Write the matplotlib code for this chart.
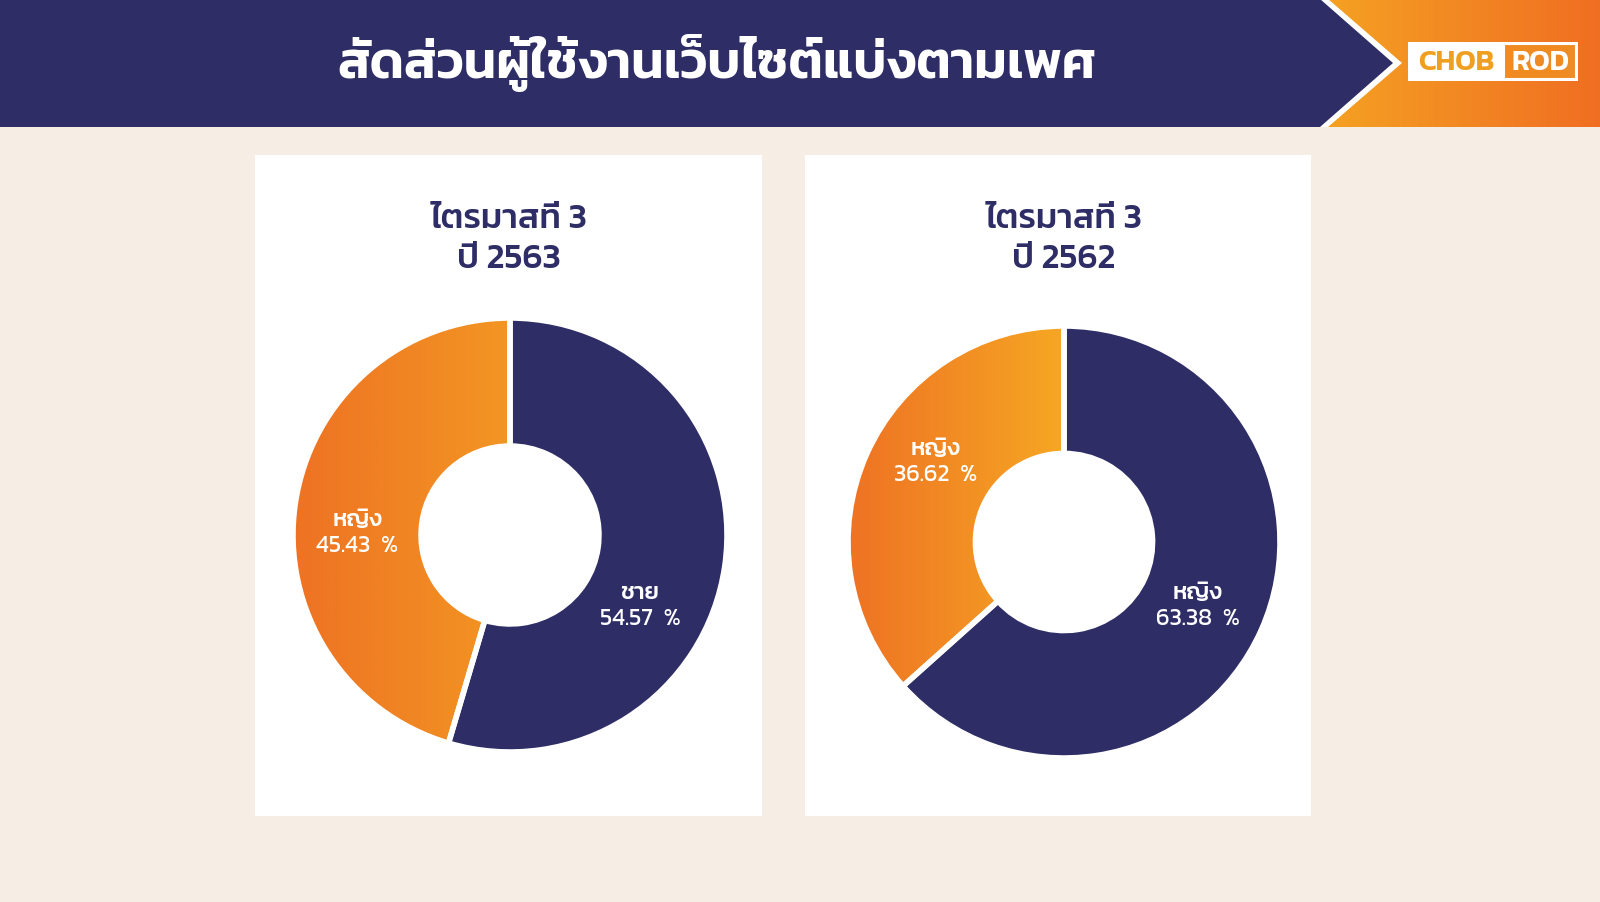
import numpy as np
import matplotlib
matplotlib.use("Agg")
import matplotlib.pyplot as plt
from matplotlib import font_manager, ft2font
from matplotlib.patches import Rectangle, Polygon
from matplotlib.colors import LinearSegmentedColormap

# data
title = "สัดส่วนผู้ใช้งานเว็บไซต์แบ่งตามเพศ"
chart_titles = ["ไตรมาสที่ 3\nปี 2563", "ไตรมาสที่ 3\nปี 2562"]
labels_2563 = ["ชาย", "หญิง"]
values_2563 = [54.57, 45.43]
labels_2562 = ["หญิง", "หญิง"]
values_2562 = [63.38, 36.62]

navy = "#2E2D66"
cream = "#F6EEE4"


def thai_font():
    # look for installed fonts with Thai glyphs, prefer the rounder modern ones
    found = []
    for f in font_manager.fontManager.ttflist:
        try:
            cmap = ft2font.FT2Font(f.fname).get_charmap()
        except Exception:
            continue
        if 0x0E2A in cmap and 0x0E34 in cmap:
            found.append(f.name)
    for pref in ["Kanit", "Prompt", "Mitr", "Noto Sans Thai", "Noto Sans Thai UI",
                 "Noto Sans Thai Looped", "Sarabun", "Loma", "Garuda"]:
        if pref in found:
            return pref
    return found[0] if found else "DejaVu Sans"


thai = thai_font()
plt.rcParams["font.family"] = [thai, "DejaVu Sans"]

W, H = 1600, 903
fig = plt.figure(figsize=(16, 9.03), dpi=100, facecolor=cream)
ax = fig.add_axes([0, 0, 1, 1])
ax.set_facecolor(cream)


def Y(y):
    return H - y


# header band
grad = np.linspace(0, 1, 256).reshape(1, -1)
hdr_cmap = LinearSegmentedColormap.from_list("hdr", ["#F5A623", "#F06E22"])
ax.imshow(grad, cmap=hdr_cmap, extent=[1300, 1600, Y(128), Y(0)], aspect="auto", zorder=1)
ax.add_patch(Polygon([(0, Y(0)), (1328, Y(0)), (1402, Y(64)), (1328, Y(128)), (0, Y(128))],
                     closed=True, facecolor="white", edgecolor="none", zorder=2))
ax.add_patch(Polygon([(0, Y(0)), (1320, Y(0)), (1393, Y(64)), (1320, Y(128)), (0, Y(128))],
                     closed=True, facecolor=navy, edgecolor="none", zorder=3))
ax.text(717, Y(63), title, color="white", fontsize=37.5, fontweight="semibold",
        ha="center", va="center", zorder=4)

# logo
ax.add_patch(Rectangle((1408, Y(82)), 170, 39, facecolor="white", edgecolor="none", zorder=4))
ax.add_patch(Rectangle((1504, Y(80)), 72, 35, facecolor="#F08A22", edgecolor="white",
                       linewidth=1.5, zorder=5))
ax.text(1456, Y(62.5), "CHOB", color="#F0A020", fontsize=21, fontweight="semibold",
        ha="center", va="center", zorder=6)
ax.text(1540, Y(62.5), "ROD", color="white", fontsize=21, fontweight="semibold",
        ha="center", va="center", zorder=6)

# cards
cards = [(255, 156, 507, 661), (805, 156, 506, 661)]
for x0, y0, w, h in cards:
    ax.add_patch(Rectangle((x0, Y(y0 + h)), w, h, facecolor="white", edgecolor="none", zorder=1))

charts = [
    dict(values=values_2563, labels=labels_2563, title=chart_titles[0], cx=510, cy=536, r=217,
         title_x=509, grad=["#EE7223", "#F39623"],
         label_pos=[(640, 606), (357, 533)]),
    dict(values=values_2562, labels=labels_2562, title=chart_titles[1], cx=1064, cy=543, r=216,
         title_x=1064, grad=["#EE7223", "#F6A724"],
         label_pos=[(1198, 606), (936, 462)]),
]

for c in charts:
    cx, cy, r = c["cx"], Y(c["cy"]), c["r"]
    wedges, _ = ax.pie(c["values"], colors=[navy, "#F28A22"], startangle=90, counterclock=False,
                       center=(cx, cy), radius=r, frame=True,
                       wedgeprops=dict(width=r * 0.59, edgecolor="white", linewidth=4))
    for wdg in wedges:
        wdg.set_zorder(3)
    orange = wedges[1]
    bb = orange.get_path().get_extents(orange.get_patch_transform())
    cm = LinearSegmentedColormap.from_list("o", c["grad"])
    im = ax.imshow(grad, cmap=cm, extent=[bb.x0, bb.x1, bb.y0, bb.y1], aspect="auto", zorder=2.5)
    im.set_clip_path(orange)
    orange.set_facecolor("none")

    ax.text(c["title_x"], Y(219), c["title"].split("\n")[0], color=navy, fontsize=25,
            fontweight="medium", ha="center", va="center", zorder=4)
    ax.text(c["title_x"], Y(259), c["title"].split("\n")[1], color=navy, fontsize=25,
            fontweight="medium", ha="center", va="center", zorder=4)
    for (lx, ly), lab, v in zip(c["label_pos"], c["labels"], c["values"]):
        ax.text(lx, Y(ly - 13), lab, color="white", fontsize=17, fontweight="medium",
                ha="center", va="center", zorder=5)
        ax.text(lx, Y(ly + 13), "{:.2f}  %".format(v), color="white", fontsize=17,
                ha="center", va="center", zorder=5)

ax.set_xlim(0, W)
ax.set_ylim(0, H)
ax.set_aspect("auto")
ax.axis("off")

fig.savefig("out.png", dpi=100, facecolor=cream)
